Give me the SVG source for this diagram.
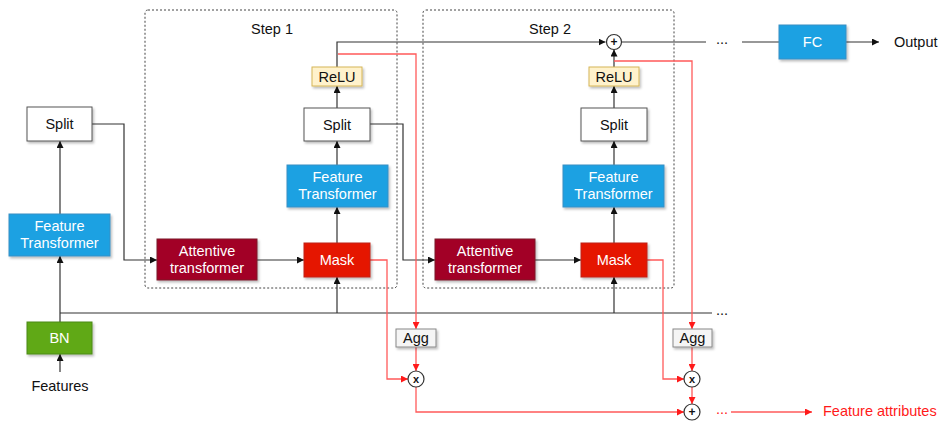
<svg xmlns="http://www.w3.org/2000/svg" width="945" height="421" viewBox="0 0 945 421">
<style>
text{font-family:"Liberation Sans",Arial,sans-serif;font-size:14.5px;text-anchor:middle;dominant-baseline:central}
.w{fill:#fff}
.k{fill:#111}
.r{fill:#ff1a1a}
.c{fill:none;stroke:#333;stroke-width:1.2}
.cr{fill:none;stroke:#ff5a5a;stroke-width:1.3}
.step{fill:none;stroke:#444;stroke-width:1;stroke-dasharray:2 2}
.ft{fill:#1ba1e2;stroke:#3b8fc4}
.att{fill:#a20025;stroke:#7a1a2a}
.mask{fill:#e51400;stroke:#c0200f}
.split{fill:#fff;stroke:#555}
.relu{fill:#fff2cc;stroke:#d6b656}
.bn{fill:#60a917;stroke:#4a8a14}
.agg{fill:#f5f5f5;stroke:#888}
.op{fill:#fff;stroke:#333;stroke-width:1.2}
</style>
<defs>
<filter id="sh" x="-20%" y="-20%" width="140%" height="150%">
<feDropShadow dx="1.5" dy="2" stdDeviation="1.2" flood-color="#000" flood-opacity="0.25"/>
</filter>
<marker id="ak" viewBox="0 0 10 10" refX="10" refY="5" markerWidth="7" markerHeight="7" markerUnits="userSpaceOnUse" orient="auto">
<path d="M0,0 L10,5 L0,10 z" fill="#111"/>
</marker>
<marker id="ar" viewBox="0 0 10 10" refX="10" refY="5" markerWidth="7" markerHeight="7" markerUnits="userSpaceOnUse" orient="auto">
<path d="M0,0 L10,5 L0,10 z" fill="#ff1a1a"/>
</marker>
</defs>

<g id="step1"><rect class="step" x="145" y="10" width="252" height="278" rx="3"/><text class="k" x="272" y="29">Step 1</text></g>
<g id="step2"><rect class="step" x="423" y="10" width="251" height="278" rx="3"/><text class="k" x="550" y="29">Step 2</text></g>

<g id="connectors">
<path class="c" d="M60,372 V354" marker-end="url(#ak)"/>
<path class="c" d="M60,322 V256" marker-end="url(#ak)"/>
<path class="c" d="M60,214 V141" marker-end="url(#ak)"/>
<path class="c" d="M92,124 H124 V260 H157" marker-end="url(#ak)"/>
<path class="c" d="M60,313 H712"/>
<path class="c" d="M337,313 V277" marker-end="url(#ak)"/>
<path class="c" d="M614,313 V277" marker-end="url(#ak)"/>
<path class="c" d="M257,260 H304" marker-end="url(#ak)"/>
<path class="c" d="M337,243 V207" marker-end="url(#ak)"/>
<path class="c" d="M337,165 V141" marker-end="url(#ak)"/>
<path class="c" d="M337,108 V86" marker-end="url(#ak)"/>
<path class="c" d="M337,67 V42 H605.5" marker-end="url(#ak)"/>
<path class="c" d="M370,124 H403 V260 H435" marker-end="url(#ak)"/>
<path class="c" d="M535,260 H581" marker-end="url(#ak)"/>
<path class="c" d="M614,243 V207" marker-end="url(#ak)"/>
<path class="c" d="M614,165 V141" marker-end="url(#ak)"/>
<path class="c" d="M614,108 V86" marker-end="url(#ak)"/>
<path class="c" d="M614,67 V49.5" marker-end="url(#ak)"/>
<path class="c" d="M621.5,42 H706"/>
<path class="c" d="M742,42 H779"/>
<path class="c" d="M846,42 H879" marker-end="url(#ak)"/>
<path class="cr" d="M338,54 H416 V329" marker-end="url(#ar)"/>
<path class="cr" d="M370,260 H387 V379 H408" marker-end="url(#ar)"/>
<path class="cr" d="M416,347 V371" marker-end="url(#ar)"/>
<path class="cr" d="M416,387 V412 H684" marker-end="url(#ar)"/>
<path class="cr" d="M614,61 H692 V329" marker-end="url(#ar)"/>
<path class="cr" d="M647,260 H663 V379 H684" marker-end="url(#ar)"/>
<path class="cr" d="M692,347 V371" marker-end="url(#ar)"/>
<path class="cr" d="M692,387 V404" marker-end="url(#ar)"/>
<path class="cr" d="M731,412 H812" marker-end="url(#ar)"/>
<text class="k" x="722" y="39">...</text>
<text class="k" x="722" y="310">...</text>
<text class="r" x="722" y="409">...</text>
</g>

<g id="features"><text class="k" x="60" y="386">Features</text></g>
<g id="bn"><rect class="bn" filter="url(#sh)" x="27" y="322" width="65" height="32"/><text class="w" x="59.5" y="338">BN</text></g>
<g id="ft0"><rect class="ft" filter="url(#sh)" x="9" y="214" width="101" height="42"/><text class="w" x="59.5" y="226">Feature</text><text class="w" x="59.5" y="243">Transformer</text></g>
<g id="split0"><rect class="split" filter="url(#sh)" x="27" y="107" width="65" height="34"/><text class="k" x="59.5" y="124">Split</text></g>

<g id="att1"><rect class="att" filter="url(#sh)" x="157" y="239" width="100" height="41"/><text class="w" x="207" y="251">Attentive</text><text class="w" x="207" y="268">transformer</text></g>
<g id="mask1"><rect class="mask" filter="url(#sh)" x="304" y="243" width="66" height="34"/><text class="w" x="337" y="260">Mask</text></g>
<g id="ft1"><rect class="ft" filter="url(#sh)" x="287" y="165" width="101" height="42"/><text class="w" x="337.5" y="177">Feature</text><text class="w" x="337.5" y="194">Transformer</text></g>
<g id="split1"><rect class="split" filter="url(#sh)" x="304" y="108" width="66" height="33"/><text class="k" x="337" y="124.5">Split</text></g>
<g id="relu1"><rect class="relu" filter="url(#sh)" x="312" y="67" width="50" height="19"/><text class="k" x="337" y="76.5">ReLU</text></g>

<g id="att2"><rect class="att" filter="url(#sh)" x="435" y="239" width="100" height="41"/><text class="w" x="485" y="251">Attentive</text><text class="w" x="485" y="268">transformer</text></g>
<g id="mask2"><rect class="mask" filter="url(#sh)" x="581" y="243" width="66" height="34"/><text class="w" x="614" y="260">Mask</text></g>
<g id="ft2"><rect class="ft" filter="url(#sh)" x="563" y="165" width="101" height="42"/><text class="w" x="613.5" y="177">Feature</text><text class="w" x="613.5" y="194">Transformer</text></g>
<g id="split2"><rect class="split" filter="url(#sh)" x="581" y="108" width="66" height="33"/><text class="k" x="614" y="124.5">Split</text></g>
<g id="relu2"><rect class="relu" filter="url(#sh)" x="589" y="67" width="50" height="19"/><text class="k" x="614" y="76.5">ReLU</text></g>

<g id="plus1"><circle class="op" cx="614" cy="42" r="7.5"/><text class="k" x="614" y="42" style="font-size:12px;font-weight:bold">+</text></g>
<g id="fc"><rect class="ft" filter="url(#sh)" x="779" y="25" width="67" height="34"/><text class="w" x="812.5" y="42">FC</text></g>
<g id="output"><text class="k" x="894" y="42" style="text-anchor:start">Output</text></g>

<g id="agg1"><rect class="agg" filter="url(#sh)" x="396" y="329" width="40" height="18"/><text class="k" x="416" y="338">Agg</text></g>
<g id="agg2"><rect class="agg" filter="url(#sh)" x="673" y="329" width="39" height="18"/><text class="k" x="692.5" y="338">Agg</text></g>
<g id="mul1"><circle class="op" cx="416" cy="379" r="8"/><text class="k" x="416" y="378.5" style="font-size:11px;font-weight:bold">x</text></g>
<g id="mul2"><circle class="op" cx="692" cy="379" r="8"/><text class="k" x="692" y="378.5" style="font-size:11px;font-weight:bold">x</text></g>
<g id="plus2"><circle class="op" cx="692" cy="412" r="8"/><text class="k" x="692" y="412" style="font-size:12px;font-weight:bold">+</text></g>
<g id="attr"><text class="r" x="823" y="411" style="text-anchor:start">Feature attributes</text></g>
</svg>
